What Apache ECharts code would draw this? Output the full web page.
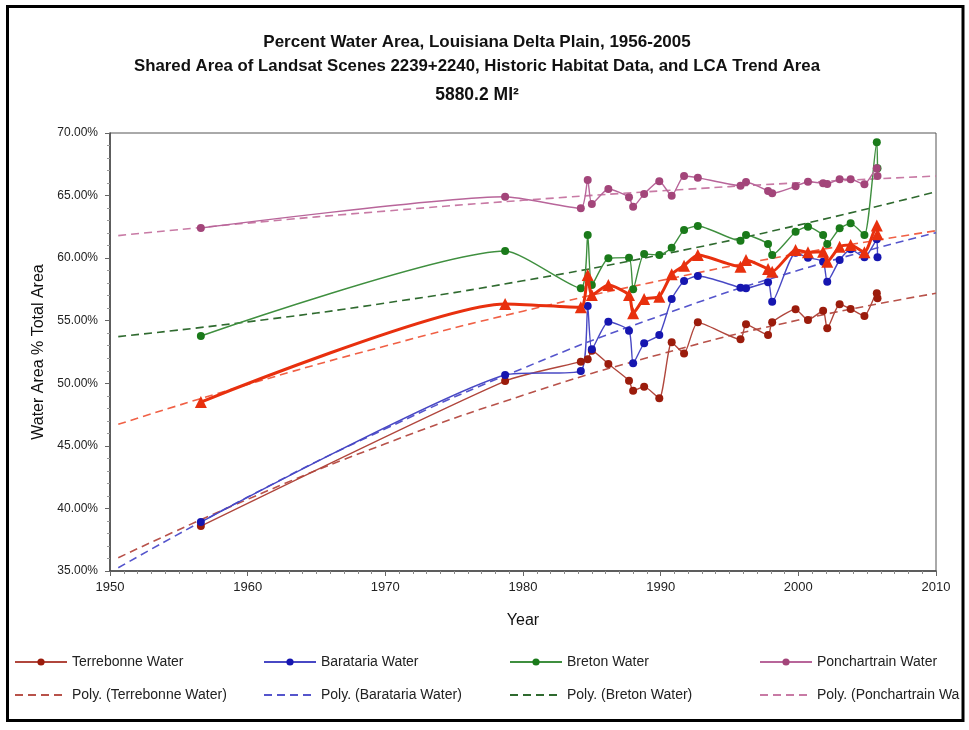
<!DOCTYPE html>
<html>
<head>
<meta charset="utf-8">
<script src="https://cdn.jsdelivr.net/npm/echarts@6/dist/echarts.min.js"></script>
<style>
html,body{margin:0;padding:0;background:#fff;}
#chart{width:969px;height:730px;}
</style>
</head>
<body>
<div id="chart"></div>
<script>
// ---- Data ----
var years = [1956.6, 1978.7, 1984.2, 1984.7, 1985.0, 1986.2, 1987.7, 1988.0, 1988.8, 1989.9, 1990.8, 1991.7, 1992.7,
             1995.8, 1996.2, 1997.8, 1998.1, 1999.8, 2000.7, 2001.8, 2002.1, 2003.0, 2003.8, 2004.8, 2005.7, 2005.75];

var terrebonne   = [38.59, 50.18, 51.73, 51.92, 52.60, 51.54, 50.21, 49.41, 49.73, 48.80, 53.27, 52.39, 54.87,
                    53.51, 54.71, 53.86, 54.87, 55.91, 55.06, 55.80, 54.39, 56.31, 55.94, 55.38, 57.19, 56.79];
var barataria    = [38.91, 50.66, 50.98, 56.18, 52.72, 54.92, 54.20, 51.60, 53.19, 53.86, 56.74, 58.17, 58.57,
                    57.64, 57.59, 58.07, 56.52, 60.43, 60.04, 59.72, 58.12, 59.85, 60.71, 60.07, 61.50, 60.07];
var breton       = [53.78, 60.57, 57.59, 61.85, 57.85, 59.99, 60.04, 57.51, 60.33, 60.25, 60.83, 62.25, 62.57,
                    61.39, 61.85, 61.13, 60.25, 62.11, 62.51, 61.85, 61.13, 62.38, 62.78, 61.85, 69.26, 67.18];
var ponchartrain = [62.41, 64.91, 63.98, 66.24, 64.33, 65.53, 64.86, 64.11, 65.13, 66.14, 64.99, 66.56, 66.43,
                    65.79, 66.08, 65.37, 65.18, 65.74, 66.11, 65.98, 65.92, 66.30, 66.30, 65.90, 67.18, 66.56];
var average      = [48.50, 56.34, 56.07, 58.65, 57.05, 57.85, 57.05, 55.59, 56.73, 56.92, 58.71, 59.40, 60.25,
                    59.32, 59.85, 59.13, 58.92, 60.65, 60.47, 60.51, 59.72, 60.91, 61.05, 60.47, 62.60, 61.90];

// trendline positions
var trendYears      = [1950.6, 1960, 1970, 1980, 1990, 2000, 2010];
var trendTerrebonne = [36.06, 40.73, 45.17, 49.04, 52.33, 55.05, 57.19];
var trendBarataria  = [35.26, 40.91, 46.36, 51.20, 55.41, 59.03, 62.03];
var trendBreton     = [53.73, 54.91, 56.41, 58.19, 60.27, 62.64, 65.30];
var trendPonch      = [61.80, 62.80, 63.76, 64.62, 65.37, 66.02, 66.56];
var trendAverage    = [46.72, 49.90, 52.98, 55.76, 58.21, 60.36, 62.19];

var titleLines = [
  'Percent Water Area, Louisiana Delta Plain, 1956-2005',
  'Shared Area of Landsat Scenes 2239+2240, Historic Habitat Data, and LCA Trend Area',
  '5880.2 MI²'
];
var names = ['Terrebonne Water', 'Barataria Water', 'Breton Water', 'Ponchartrain Water'];
var polyNames = ['Poly. (Terrebonne Water)', 'Poly. (Barataria Water)', 'Poly. (Breton Water)', 'Poly. (Ponchartrain Water)'];

function pairs(xs, ys) { return xs.map(function (x, i) { return [x, ys[i]]; }); }

var FONT = '"Liberation Sans", Arial, sans-serif';
var markerColors = ['#9b1c0c', '#1616b0', '#1a7a1a', '#a3457a'];
var lineColors   = ['#b0463c', '#4848c4', '#3f8f3f', '#b8659a'];
var dashColors   = ['#b8524a', '#5555cc', '#2f6a2f', '#c87aa5'];
var dataSets = [terrebonne, barataria, breton, ponchartrain];
var trendSets = [trendTerrebonne, trendBarataria, trendBreton, trendPonch];

var series = [];
for (var i = 0; i < 4; i++) {
  series.push({
    name: polyNames[i], type: 'line', data: pairs(trendYears, trendSets[i]),
    smooth: 0.5, symbol: 'none', z: 2,
    lineStyle: { color: dashColors[i], width: 1.6, type: [8, 5] },
    itemStyle: { color: dashColors[i] }
  });
}
series.push({
  name: 'Poly. (Average)', type: 'line', data: pairs(trendYears, trendAverage),
  smooth: 0.5, symbol: 'none', z: 2,
  lineStyle: { color: '#f06045', width: 1.6, type: [8, 5] },
  itemStyle: { color: '#f06045' }
});
for (var j = 0; j < 4; j++) {
  series.push({
    name: names[j], type: 'line', data: pairs(years, dataSets[j]),
    smooth: 0.2, symbol: 'circle', symbolSize: 8, z: 3,
    lineStyle: { color: lineColors[j], width: 1.4 },
    itemStyle: { color: markerColors[j] }
  });
}
series.push({
  name: 'Average', type: 'line', data: pairs(years, average),
  smooth: 0.2, symbol: 'triangle', symbolSize: 12, z: 4,
  lineStyle: { color: '#e8300e', width: 3 },
  itemStyle: { color: '#e8300e' }
});

var legendCols = [14, 263, 509, 759];
var legends = [];
for (var k = 0; k < 4; k++) {
  legends.push({
    data: [names[k]], left: legendCols[k], top: 655, padding: 0,
    itemWidth: 52, itemHeight: 9, itemGap: 5, selectedMode: false,
    textStyle: { fontFamily: FONT, fontSize: 14, color: '#222' }
  });
  legends.push({
    data: [polyNames[k]], left: legendCols[k], top: 688, padding: 0,
    itemWidth: 52, itemHeight: 9, itemGap: 5, selectedMode: false,
    itemStyle: { opacity: 0 },
    textStyle: { fontFamily: FONT, fontSize: 14, color: '#222',
                 width: k === 3 ? 146 : 300, overflow: 'truncate', ellipsis: '' }
  });
}

function titleText(txt, y, size) {
  return { type: 'text', x: 477, y: y, silent: true, z: 50,
           style: { text: txt, fill: '#111', fontFamily: FONT, fontWeight: 'bold',
                    fontSize: size, align: 'center', verticalAlign: 'middle' } };
}

var chart = echarts.init(document.getElementById('chart'), null, { renderer: 'canvas' });
chart.setOption({
  backgroundColor: '#fff',
  animation: false,
  legend: legends,
  graphic: [
    titleText(titleLines[0], 42, 17),
    titleText(titleLines[1], 66, 16.8),
    titleText(titleLines[2], 95, 17.5),
    { type: 'rect', shape: { x: 7.5, y: 6.5, width: 955.5, height: 714 },
      style: { fill: null, stroke: '#000', lineWidth: 3 }, silent: true, z: 100 }
  ],
  grid: { left: 110, right: 33, top: 133, bottom: 159, show: true,
          borderColor: '#555', borderWidth: 1, backgroundColor: 'transparent' },
  xAxis: {
    type: 'value', min: 1950, max: 2010, interval: 10,
    name: 'Year', nameLocation: 'middle', nameGap: 42,
    nameTextStyle: { fontFamily: FONT, fontSize: 16, color: '#111' },
    axisLine: { lineStyle: { color: '#444', width: 1.5 } },
    axisTick: { show: true, length: 5, lineStyle: { color: '#666' } },
    minorTick: { show: true, splitNumber: 10, length: 3, lineStyle: { color: '#888' } },
    splitLine: { show: false },
    axisLabel: { fontFamily: FONT, fontSize: 13, color: '#222', margin: 10,
                 formatter: function (v) { return String(v); } }
  },
  yAxis: {
    type: 'value', min: 35, max: 70, interval: 5,
    name: 'Water Area % Total Area', nameLocation: 'middle', nameGap: 63,
    nameTextStyle: { fontFamily: FONT, fontSize: 16, color: '#111' },
    axisLine: { show: true, lineStyle: { color: '#444', width: 1.5 } },
    axisTick: { show: true, length: 5, lineStyle: { color: '#666' } },
    minorTick: { show: true, splitNumber: 5, length: 3, lineStyle: { color: '#999' } },
    splitLine: { show: false },
    axisLabel: { fontFamily: FONT, fontSize: 12, color: '#222', margin: 12,
                 formatter: function (v) { return v.toFixed(2) + '%'; } }
  },
  series: series
});
</script>
</body>
</html>
